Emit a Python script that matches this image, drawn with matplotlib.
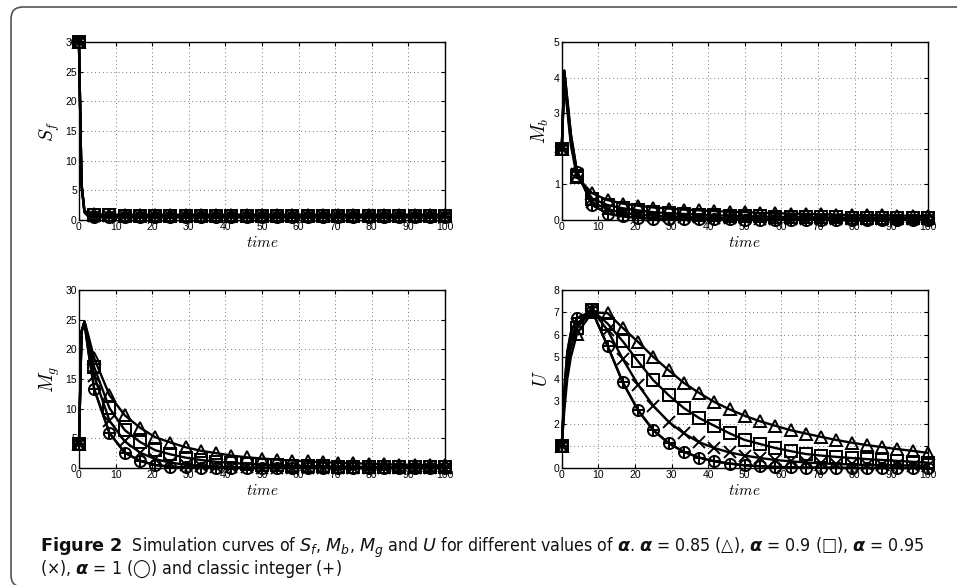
import matplotlib.pyplot as plt
from matplotlib.patches import FancyBboxPatch

# time points: a few early samples for the initial transient, then the marker grid
t = [0, 0.7, 1.5, 2.5, 4.17, 8.33, 12.5, 16.67, 20.83, 25, 29.17, 33.33, 37.5, 41.67,
     45.83, 50, 54.17, 58.33, 62.5, 66.67, 70.83, 75, 79.17, 83.33, 87.5, 91.67, 95.83, 100]
marks = [0] + list(range(4, len(t)))

# S_f
sf_085 = [30, 6, 1.6, 1.1, 0.95, 0.92, 0.9, 0.9, 0.9, 0.9, 0.9, 0.9, 0.9, 0.9,
          0.9, 0.9, 0.9, 0.9, 0.9, 0.9, 0.9, 0.9, 0.9, 0.9, 0.9, 0.9, 0.9, 0.9]
sf_090 = [30, 6, 1.5, 0.95, 0.8, 0.77, 0.75, 0.75, 0.75, 0.75, 0.75, 0.75, 0.75, 0.75,
          0.75, 0.75, 0.75, 0.75, 0.75, 0.75, 0.75, 0.75, 0.75, 0.75, 0.75, 0.75, 0.75, 0.75]
sf_095 = [30, 6, 1.4, 0.8, 0.65, 0.62, 0.6, 0.6, 0.6, 0.6, 0.6, 0.6, 0.6, 0.6,
          0.6, 0.6, 0.6, 0.6, 0.6, 0.6, 0.6, 0.6, 0.6, 0.6, 0.6, 0.6, 0.6, 0.6]
sf_100 = [30, 6, 1.3, 0.65, 0.5, 0.47, 0.45, 0.45, 0.45, 0.45, 0.45, 0.45, 0.45, 0.45,
          0.45, 0.45, 0.45, 0.45, 0.45, 0.45, 0.45, 0.45, 0.45, 0.45, 0.45, 0.45, 0.45, 0.45]

# M_b
mb_085 = [2, 3.9, 3.1, 2.1, 1.2, 0.75, 0.56, 0.46, 0.40, 0.35, 0.32, 0.29, 0.27, 0.25,
          0.23, 0.22, 0.20, 0.19, 0.18, 0.17, 0.16, 0.15, 0.14, 0.13, 0.13, 0.12, 0.12, 0.11]
mb_090 = [2, 4.0, 3.2, 2.2, 1.25, 0.60, 0.42, 0.33, 0.27, 0.22, 0.19, 0.17, 0.15, 0.13,
          0.12, 0.11, 0.10, 0.09, 0.085, 0.08, 0.075, 0.07, 0.065, 0.06, 0.058, 0.055, 0.052, 0.05]
mb_095 = [2, 4.1, 3.3, 2.3, 1.3, 0.50, 0.30, 0.20, 0.15, 0.12, 0.10, 0.08, 0.07, 0.06,
          0.05, 0.045, 0.04, 0.035, 0.032, 0.03, 0.028, 0.026, 0.024, 0.022, 0.021, 0.02, 0.019, 0.018]
mb_100 = [2, 4.2, 3.4, 2.4, 1.35, 0.42, 0.18, 0.10, 0.06, 0.04, 0.03, 0.02, 0.02, 0.015,
          0.015, 0.01, 0.01, 0.01, 0.01, 0.01, 0.01, 0.01, 0.01, 0.01, 0.01, 0.01, 0.01, 0.01]

# M_g
mg_085 = [4, 23, 24.8, 22.5, 18.5, 12.3, 8.9, 6.8, 5.2, 4.3, 3.5, 2.9, 2.5, 2.1,
          1.8, 1.6, 1.4, 1.25, 1.1, 0.98, 0.88, 0.8, 0.72, 0.65, 0.58, 0.53, 0.48, 0.44]
mg_090 = [4, 23, 24.7, 22, 17, 10.1, 6.4, 4.4, 3.0, 2.3, 1.75, 1.35, 1.05, 0.85,
          0.7, 0.58, 0.48, 0.4, 0.34, 0.29, 0.25, 0.22, 0.19, 0.17, 0.15, 0.13, 0.12, 0.1]
mg_095 = [4, 23, 24.6, 21, 15.5, 8.0, 4.5, 2.6, 1.5, 0.9, 0.55, 0.35, 0.22, 0.15,
          0.1, 0.07, 0.05, 0.04, 0.03, 0.02, 0.02, 0.02, 0.01, 0.01, 0.01, 0.01, 0.01, 0.01]
mg_100 = [4, 23, 24.5, 20, 13.3, 5.9, 2.6, 1.2, 0.5, 0.22, 0.1, 0.05, 0.02, 0.01,
          0, 0, 0, 0, 0, 0, 0, 0, 0, 0, 0, 0, 0, 0]

# U
u_085 = [1, 2.6, 4.0, 5.0, 6.05, 7.0, 6.97, 6.3, 5.67, 5.0, 4.4, 3.83, 3.38, 2.97,
         2.64, 2.35, 2.1, 1.9, 1.7, 1.55, 1.4, 1.26, 1.14, 1.03, 0.94, 0.85, 0.77, 0.68]
u_090 = [1, 2.9, 4.4, 5.4, 6.3, 7.1, 6.5, 5.7, 4.8, 3.95, 3.28, 2.7, 2.25, 1.9,
         1.56, 1.26, 1.08, 0.9, 0.76, 0.63, 0.56, 0.5, 0.45, 0.4, 0.36, 0.32, 0.28, 0.24]
u_095 = [1, 3.2, 4.8, 5.8, 6.5, 7.1, 6.2, 4.9, 3.75, 2.8, 2.08, 1.56, 1.16, 0.9,
         0.7, 0.56, 0.45, 0.36, 0.3, 0.25, 0.21, 0.18, 0.16, 0.14, 0.13, 0.12, 0.11, 0.1]
u_100 = [1, 3.5, 5.2, 6.1, 6.75, 7.05, 5.5, 3.85, 2.6, 1.7, 1.12, 0.73, 0.47, 0.3,
         0.2, 0.12, 0.08, 0.05, 0.03, 0.02, 0.01, 0.01, 0, 0, 0, 0, 0, 0]

# the classic integer model lies on top of alpha = 1 in every panel
sf_int, mb_int, mg_int, u_int = sf_100, mb_100, mg_100, u_100

xticks = list(range(0, 101, 10))

plt.rcParams['font.family'] = ['Liberation Sans', 'DejaVu Sans']
plt.rcParams['mathtext.fontset'] = 'cm'


def panel(ax, series, ylabel, ymax, ystep):
    styles = [dict(marker='^', mfc='none'), dict(marker='s', mfc='none'),
              dict(marker='x'), dict(marker='o', mfc='none'), dict(marker='+')]
    # draw the classic integer curve first so the triangles end up on top
    for y, st in reversed(list(zip(series, styles))):
        ax.plot(t, y, color='black', lw=1.7, markevery=marks, ms=8, mew=1.4,
                mec='black', clip_on=False, **st)
    ax.set_xlim(0, 100)
    ax.set_ylim(0, ymax)
    ax.set_xticks(xticks)
    ax.set_yticks(list(range(0, ymax + 1, ystep)))
    ax.grid(True, linestyle=(0, (1, 3)), color='#777777', lw=0.7)
    ax.tick_params(direction='in', length=3, labelsize=7.5, top=True, right=True, pad=1.5)
    for s in ax.spines.values():
        s.set_linewidth(1.0)
    ax.set_xlabel('$time$', fontsize=11, labelpad=2)
    ax.set_ylabel(ylabel, fontsize=14, labelpad=2)


fig = plt.figure(figsize=(9.57, 5.85), dpi=100)
ax1 = fig.add_axes([0.0825, 0.624, 0.3825, 0.304])
ax2 = fig.add_axes([0.587, 0.624, 0.3825, 0.304])
ax3 = fig.add_axes([0.0825, 0.2, 0.3825, 0.304])
ax4 = fig.add_axes([0.587, 0.2, 0.3825, 0.304])

panel(ax1, [sf_085, sf_090, sf_095, sf_100, sf_int], '$S_f$', 30, 5)
panel(ax2, [mb_085, mb_090, mb_095, mb_100, mb_int], '$M_b$', 5, 1)
panel(ax3, [mg_085, mg_090, mg_095, mg_100, mg_int], '$M_g$', 30, 5)
panel(ax4, [u_085, u_090, u_095, u_100, u_int], '$U$', 8, 1)

# rounded frame around the figure block (pixel coordinates)
frame = FancyBboxPatch((11, -2), 960, 580, boxstyle='round,pad=0,rounding_size=12',
                       transform=None, fill=False, ec='#555555', lw=1.2)
fig.add_artist(frame)

# caption
a = r'$\mathbfit{\alpha}$'
line1 = (r'$\mathbf{Figure\ 2}$  Simulation curves of $S_f$, $M_b$, $M_g$ and $U$ for different values of '
         + a + '. ' + a + ' = 0.85 (△), ' + a + ' = 0.9 (□), ' + a + ' = 0.95')
line2 = '(×), ' + a + ' = 1 (◯) and classic integer (+)'
cap = dict(fontsize=12.7, family='DejaVu Sans', fontstretch='condensed',
           math_fontfamily='dejavusans', va='baseline', color='#111111')
fig.text(0.0418, 0.0565, line1, **cap)
fig.text(0.0418, 0.0185, line2, **cap)

plt.savefig('out.png', dpi=100)
